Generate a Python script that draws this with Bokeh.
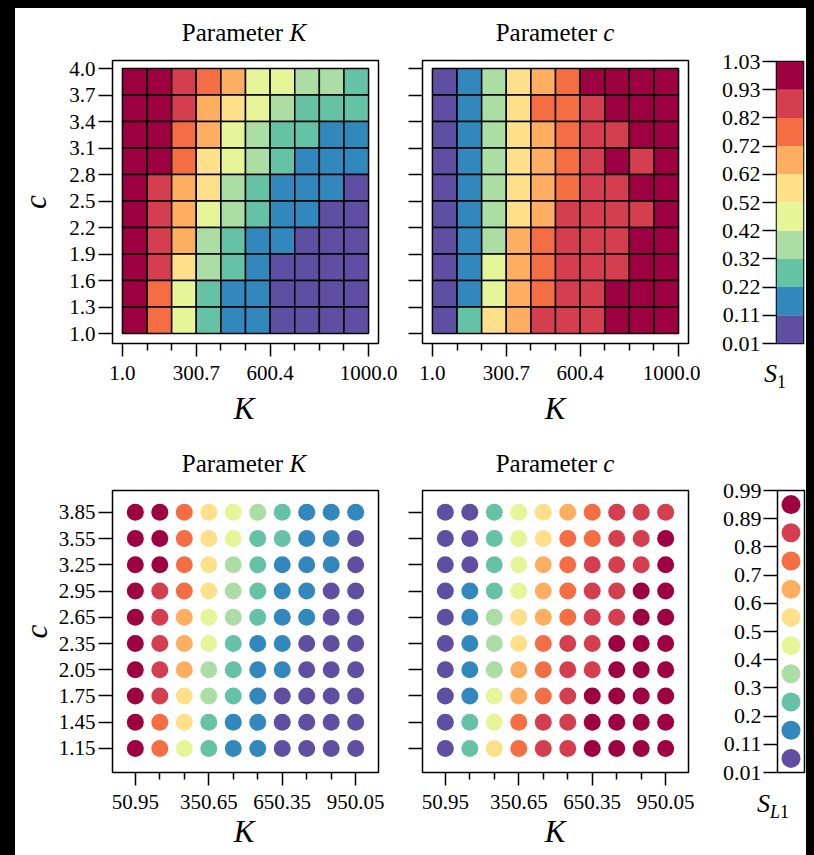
from bokeh.plotting import figure
from bokeh.models import (Range1d, FixedTicker, NumeralTickFormatter, CustomJSTickFormatter,
                          Spacer, ColumnDataSource, LinearColorMapper, Div)
from bokeh.layouts import row, column
from bokeh.transform import transform
from bokeh.embed import file_html
from bokeh.resources import INLINE

FONT = "Liberation Serif"

# ---------------- data ----------------
palette = ["#5e4fa2", "#3288bd", "#66c2a5", "#abdda4", "#e6f598",
           "#fee08b", "#fdae61", "#f46d43", "#d53e4f", "#9e0142"]

k_edges = [1.0, 100.9, 200.8, 300.7, 400.6, 500.5, 600.4, 700.3, 800.2, 900.1, 1000.0]
k_major_top = [1.0, 300.7, 600.4, 1000.0]
c_edges = [1.0, 1.3, 1.6, 1.9, 2.2, 2.5, 2.8, 3.1, 3.4, 3.7, 4.0]

k_centers = [50.95, 150.85, 250.75, 350.65, 450.55, 550.45, 650.35, 750.25, 850.15, 950.05]
k_major_bottom = [50.95, 350.65, 650.35, 950.05]
c_centers_desc = [3.85, 3.55, 3.25, 2.95, 2.65, 2.35, 2.05, 1.75, 1.45, 1.15]

# S1 heatmap, parameter K (rows top -> bottom, i.e. c = 3.85 ... 1.15)
s1_K = [
    [0.98, 0.98, 0.88, 0.77, 0.67, 0.47, 0.47, 0.37, 0.37, 0.27],
    [0.98, 0.98, 0.88, 0.67, 0.57, 0.47, 0.37, 0.27, 0.27, 0.27],
    [0.98, 0.98, 0.77, 0.67, 0.47, 0.37, 0.27, 0.27, 0.16, 0.16],
    [0.98, 0.98, 0.77, 0.57, 0.47, 0.37, 0.27, 0.16, 0.16, 0.16],
    [0.98, 0.88, 0.67, 0.57, 0.37, 0.27, 0.16, 0.16, 0.16, 0.06],
    [0.98, 0.88, 0.67, 0.47, 0.37, 0.27, 0.16, 0.16, 0.06, 0.06],
    [0.98, 0.88, 0.67, 0.37, 0.27, 0.16, 0.16, 0.06, 0.06, 0.06],
    [0.98, 0.88, 0.57, 0.37, 0.27, 0.16, 0.06, 0.06, 0.06, 0.06],
    [0.98, 0.77, 0.47, 0.27, 0.16, 0.16, 0.06, 0.06, 0.06, 0.06],
    [0.98, 0.77, 0.47, 0.27, 0.16, 0.16, 0.06, 0.06, 0.06, 0.06],
]
# S1 heatmap, parameter c
s1_c = [
    [0.06, 0.16, 0.37, 0.57, 0.67, 0.77, 0.98, 0.98, 0.98, 0.98],
    [0.06, 0.16, 0.37, 0.57, 0.77, 0.77, 0.88, 0.98, 0.98, 0.98],
    [0.06, 0.16, 0.37, 0.57, 0.67, 0.77, 0.88, 0.88, 0.98, 0.98],
    [0.06, 0.16, 0.37, 0.57, 0.67, 0.77, 0.88, 0.98, 0.88, 0.98],
    [0.06, 0.16, 0.37, 0.57, 0.67, 0.77, 0.88, 0.88, 0.98, 0.98],
    [0.06, 0.16, 0.37, 0.57, 0.67, 0.88, 0.88, 0.88, 0.88, 0.98],
    [0.06, 0.16, 0.37, 0.67, 0.77, 0.88, 0.88, 0.88, 0.98, 0.98],
    [0.06, 0.16, 0.47, 0.67, 0.77, 0.88, 0.88, 0.88, 0.98, 0.98],
    [0.06, 0.16, 0.47, 0.67, 0.77, 0.88, 0.88, 0.98, 0.98, 0.98],
    [0.06, 0.27, 0.57, 0.67, 0.88, 0.88, 0.88, 0.98, 0.98, 0.98],
]
# SL1 scatter, parameter K
sl1_K = [
    [0.94, 0.94, 0.75, 0.55, 0.45, 0.35, 0.25, 0.16, 0.16, 0.16],
    [0.94, 0.94, 0.75, 0.55, 0.45, 0.25, 0.25, 0.16, 0.16, 0.06],
    [0.94, 0.94, 0.75, 0.55, 0.35, 0.25, 0.16, 0.16, 0.16, 0.06],
    [0.94, 0.84, 0.75, 0.55, 0.35, 0.25, 0.16, 0.16, 0.06, 0.06],
    [0.94, 0.84, 0.65, 0.45, 0.35, 0.25, 0.16, 0.16, 0.06, 0.06],
    [0.94, 0.84, 0.65, 0.45, 0.25, 0.16, 0.16, 0.06, 0.06, 0.06],
    [0.94, 0.84, 0.65, 0.35, 0.25, 0.16, 0.16, 0.06, 0.06, 0.06],
    [0.94, 0.84, 0.55, 0.35, 0.25, 0.16, 0.06, 0.06, 0.06, 0.06],
    [0.94, 0.75, 0.55, 0.25, 0.16, 0.16, 0.06, 0.06, 0.06, 0.06],
    [0.94, 0.75, 0.45, 0.25, 0.16, 0.16, 0.06, 0.06, 0.06, 0.06],
]
# SL1 scatter, parameter c
sl1_c = [
    [0.06, 0.06, 0.25, 0.45, 0.55, 0.65, 0.75, 0.84, 0.84, 0.84],
    [0.06, 0.06, 0.25, 0.45, 0.55, 0.75, 0.75, 0.84, 0.84, 0.94],
    [0.06, 0.06, 0.25, 0.45, 0.65, 0.75, 0.84, 0.84, 0.84, 0.94],
    [0.06, 0.16, 0.25, 0.45, 0.65, 0.75, 0.84, 0.84, 0.94, 0.94],
    [0.06, 0.16, 0.35, 0.55, 0.65, 0.75, 0.84, 0.84, 0.94, 0.94],
    [0.06, 0.16, 0.35, 0.55, 0.75, 0.84, 0.84, 0.94, 0.94, 0.94],
    [0.06, 0.16, 0.35, 0.65, 0.75, 0.84, 0.84, 0.94, 0.94, 0.94],
    [0.06, 0.16, 0.45, 0.65, 0.75, 0.84, 0.94, 0.94, 0.94, 0.94],
    [0.06, 0.25, 0.45, 0.75, 0.84, 0.84, 0.94, 0.94, 0.94, 0.94],
    [0.06, 0.25, 0.55, 0.75, 0.84, 0.84, 0.94, 0.94, 0.94, 0.94],
]

cb1_low, cb1_high = 0.01, 1.03
cb1_labels = ["0.01", "0.11", "0.22", "0.32", "0.42", "0.52", "0.62", "0.72", "0.82", "0.93", "1.03"]
cb2_low, cb2_high = 0.01, 0.99
cb2_labels = ["0.01", "0.11", "0.2", "0.3", "0.4", "0.5", "0.6", "0.7", "0.8", "0.89", "0.99"]

WHITE = {"background-color": "#ffffff"}

# ---------------- helpers ----------------
def grid_source(matrix):
    xs, ys, vs = [], [], []
    for i, c in enumerate(c_centers_desc):
        for j, k in enumerate(k_centers):
            xs.append(k); ys.append(c); vs.append(matrix[i][j])
    return ColumnDataSource(dict(k=xs, c=ys, v=vs))


def make_fig(width, height, left, right, top, bottom, xr, yr):
    p = figure(width=width, height=height, min_border_left=left, min_border_right=right,
               min_border_top=top, min_border_bottom=bottom,
               x_range=Range1d(*xr), y_range=Range1d(*yr),
               output_backend="svg", toolbar_location=None, tools="")
    p.grid.visible = False
    p.outline_line_color = "black"
    p.outline_line_width = 1.5
    p.outline_line_alpha = 1.0
    p.background_fill_color = "white"
    p.border_fill_color = "white"
    return p


def style_axis(ax, ticks, minor, fmt, major_len, minor_len, standoff, labels=True):
    ax.ticker = FixedTicker(ticks=ticks, minor_ticks=minor)
    ax.formatter = fmt if labels else CustomJSTickFormatter(code="return ''")
    ax.axis_line_color = None
    ax.major_tick_in = 0
    ax.minor_tick_in = 0
    ax.major_tick_out = major_len
    ax.minor_tick_out = minor_len
    ax.major_tick_line_color = "black"
    ax.minor_tick_line_color = "black"
    ax.major_tick_line_width = 1.5
    ax.minor_tick_line_width = 1.5
    ax.major_label_text_font = FONT
    ax.major_label_text_font_size = "21px"
    ax.major_label_text_color = "black"
    ax.major_label_standoff = standoff


def y_label(ax, standoff):
    ax.axis_label = "c"
    ax.axis_label_text_font = FONT
    ax.axis_label_text_font_size = "31px"
    ax.axis_label_text_font_style = "italic"
    ax.axis_label_text_color = "black"
    ax.axis_label_standoff = standoff


def text_div(width, height, html, size, left, box_w, top, align="center"):
    css = ("position:relative;top:%dpx;margin-left:%dpx;width:%dpx;text-align:%s;"
           "font-family:'Liberation Serif',serif;font-size:%dpx;line-height:%dpx;"
           "color:#000000;white-space:nowrap;" % (top, left, box_w, align, size, size))
    return Div(text='<div style="%s">%s</div>' % (css, html), width=width, height=height,
               margin=0, styles=WHITE)


def blank(width, height, colour="#ffffff"):
    return Spacer(width=width, height=height, margin=0, styles={"background-color": colour})


mapper1 = LinearColorMapper(palette=palette, low=cb1_low, high=cb1_high)
mapper2 = LinearColorMapper(palette=palette, low=cb2_low, high=cb2_high)

minor_top = [k for k in k_edges if k not in k_major_top]
minor_bottom = [k for k in k_centers if k not in k_major_bottom]

XR_TOP, YR_TOP = (-39.3, 1040.3), (0.887, 4.091)
XR_BOT, YR_BOT = (-42.2, 1043.2), (0.875, 4.10)


def heat_panel(matrix, width, left, right, sym, with_ylabels):
    fw = width - left - right
    p = make_fig(width, 8 + 283 + 50, left, right, 8, 50, XR_TOP, YR_TOP)
    p.rect(x="k", y="c", width=99.9, height=0.3, source=grid_source(matrix),
           fill_color=transform("v", mapper1), line_color="black", line_width=1.5)
    style_axis(p.xaxis[0], k_major_top, minor_top, NumeralTickFormatter(format="0.0"), 13, 7, 9)
    style_axis(p.yaxis[0], c_edges, [], NumeralTickFormatter(format="0.0"), 14, 0, 3, labels=with_ylabels)
    if with_ylabels:
        y_label(p.yaxis[0], 13)
    title = text_div(width, 44, "Parameter <i>%s</i>" % sym, 25, left, fw, 12)
    xlab = text_div(width, 40, "<i>K</i>", 31, left, fw, 0)
    return column(title, p, xlab, spacing=0, styles=WHITE)


def dot_panel(matrix, width, left, right, sym, with_ylabels):
    fw = width - left - right
    p = make_fig(width, 10 + 282 + 50, left, right, 10, 50, XR_BOT, YR_BOT)
    p.scatter(x="k", y="c", size=17, source=grid_source(matrix),
              fill_color=transform("v", mapper2), line_color=None)
    style_axis(p.xaxis[0], k_major_bottom, minor_bottom, NumeralTickFormatter(format="0.00"), 13, 7, 9)
    style_axis(p.yaxis[0], c_centers_desc, [], NumeralTickFormatter(format="0.00"), 14, 0, 3, labels=with_ylabels)
    if with_ylabels:
        y_label(p.yaxis[0], 2)
    title = text_div(width, 47, "Parameter <i>%s</i>" % sym, 25, left, fw, 18)
    xlab = text_div(width, 33, "<i>K</i>", 31, left, fw, -6)
    return column(title, p, xlab, spacing=0, styles=WHITE)


def colorbar_fig(height, left, right, top, bottom, labels, dots):
    width = left + 27 + right
    p = make_fig(width, height, left, right, top, bottom, (0, 1), (0, 10))
    p.xaxis.visible = False
    idx = list(range(len(palette)))
    src = ColumnDataSource(dict(x=[0.5] * len(idx), y=[i + 0.5 for i in idx], col=palette))
    if dots:
        p.scatter(x="x", y="y", size=19, fill_color="col", line_color=None, source=src)
    else:
        p.rect(x="x", y="y", width=1, height=1, fill_color="col", line_color=None, source=src)
    ax = p.yaxis[0]
    style_axis(ax, list(range(len(labels))), [], NumeralTickFormatter(format="0"), 14, 0, 2)
    ax.major_label_overrides = {i: lab for i, lab in enumerate(labels)}
    ax.major_label_text_font_size = "22px"
    return p


# ---------------- layout ----------------
colA = heat_panel(s1_K, 385, 95, 22, "K", True)
colB = heat_panel(s1_c, 300, 22, 12, "c", False)
figC = colorbar_fig(22 + 282 + 22, 76, 3, 22, 22, cb1_labels, False)
colC = column(blank(106, 31), figC,
              text_div(106, 68, '<i>S</i><sub style="font-size:18px;">1</sub>', 26, 64, 40, -4, "left"),
              spacing=0, styles=WHITE)

colD = dot_panel(sl1_K, 385, 95, 22, "K", True)
colE = dot_panel(sl1_c, 300, 22, 12, "c", False)
figF = colorbar_fig(22 + 282 + 22, 77, 2, 22, 22, cb2_labels, True)
colF = column(blank(106, 35), figF,
              text_div(106, 61, '<i>S</i><sub style="font-size:18px;"><i>L</i>1</sub>', 26, 57, 45, -3, "left"),
              spacing=0, styles=WHITE)

root = column(
    blank(814, 8, "#000000"),
    row(blank(15, 425, "#000000"), colA, colB, colC, blank(8, 425, "#000000"), spacing=0, styles=WHITE),
    row(blank(15, 422, "#000000"), colD, colE, colF, blank(8, 422, "#000000"), spacing=0, styles=WHITE),
    spacing=0,
    styles=WHITE,
)

open("out.html", "w").write(file_html(root, INLINE, title="Sensitivity indices"))
